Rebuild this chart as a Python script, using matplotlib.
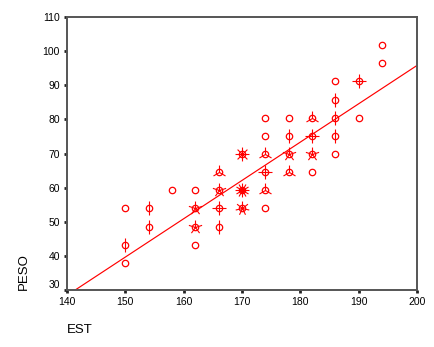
import matplotlib
matplotlib.use("Agg")
import matplotlib.pyplot as plt
import numpy as np
from matplotlib.path import Path
from matplotlib.transforms import ScaledTranslation

# sunflower plot: estatura vs peso, petalos = casos extra en la celda
est = [150, 150, 150, 154, 154, 158,
       162, 162, 162, 162,
       166, 166, 166, 166,
       170, 170, 170,
       174, 174, 174, 174, 174, 174,
       178, 178, 178, 178,
       182, 182, 182, 182,
       186, 186, 186, 186, 186,
       190, 190, 194, 194]
peso = [54.0, 43.2, 38.0, 54.0, 48.5, 59.3,
        59.3, 54.0, 48.5, 43.2,
        64.6, 59.3, 54.0, 48.5,
        69.9, 59.3, 54.0,
        80.5, 75.1, 69.9, 64.6, 59.3, 54.0,
        80.5, 75.1, 69.9, 64.6,
        80.5, 75.1, 69.9, 64.6,
        91.3, 85.8, 80.5, 75.1, 69.9,
        91.3, 80.5, 101.8, 96.5]
petalos = [0, 2, 0, 2, 2, 0,
           0, 5, 5, 0,
           3, 5, 4, 2,
           8, 12, 7,
           0, 0, 3, 4, 3, 0,
           0, 2, 5, 3,
           3, 4, 5, 0,
           0, 2, 2, 2, 0,
           4, 0, 0, 0]

# recta de regresion
intercepto = -128.8
pendiente = 1.123

rojo = "#ff0000"


def marcador_petalos(n):
    verts = []
    codes = []
    for k in range(n):
        a = np.pi / 2 + 2 * np.pi * k / n
        verts += [(0, 0), (np.cos(a), np.sin(a))]
        codes += [Path.MOVETO, Path.LINETO]
    return Path(verts, codes)


fig = plt.figure(figsize=(4.35, 3.47), dpi=100)
ax = fig.add_axes([67 / 435, 57 / 347, 350 / 435, 273 / 347])

ax.axline((0, intercepto), slope=pendiente, color=rojo, lw=0.85, zorder=2)

ax.plot(est, peso, 'o', ms=4.6, mfc='none', mec=rojo, mew=0.9, zorder=3)
for x, y, n in zip(est, peso, petalos):
    if n > 0:
        ax.plot([x], [y], linestyle='none', marker=marcador_petalos(n),
                ms=10, mec=rojo, mew=0.8, zorder=3)

ax.set_xlim(140, 200)
ax.set_ylim(30, 110)
ax.set_xticks(range(140, 201, 10))
ax.set_yticks(range(30, 111, 10))

for s in ax.spines.values():
    s.set_color("#555555")
    s.set_linewidth(1.4)

ax.tick_params(direction='out', length=2, width=2, color='#222222',
               labelsize=7.5, pad=3, top=False, right=False)
for lab in ax.get_xticklabels() + ax.get_yticklabels():
    lab.set_fontfamily('Liberation Sans')

# el 30 aparece algo desplazado hacia arriba
lab30 = ax.get_yticklabels()[0]
lab30.set_transform(lab30.get_transform() + ScaledTranslation(0, 4 / 72, fig.dpi_scale_trans))

ax.set_xlabel("EST", loc='left', fontsize=9.5, family='Liberation Sans', labelpad=12)
ax.set_ylabel("PESO", loc='bottom', fontsize=9.5, family='Liberation Sans', labelpad=9)

fig.savefig("out.png", dpi=100)
